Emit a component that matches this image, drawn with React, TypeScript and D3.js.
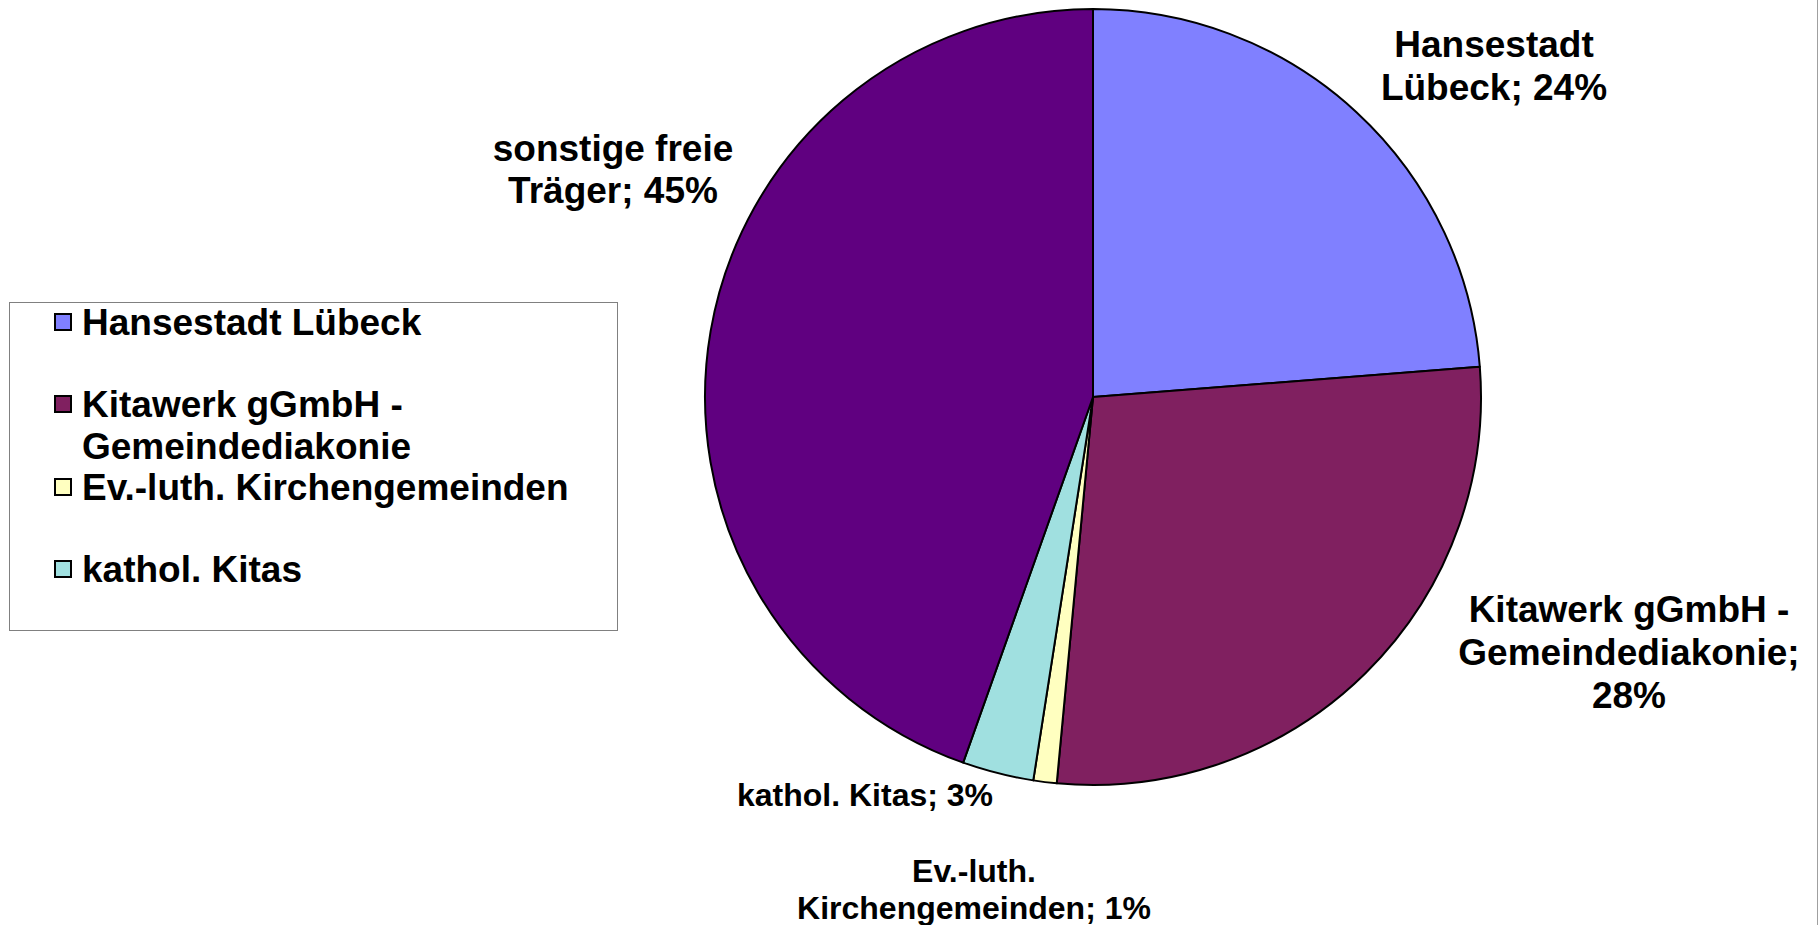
import React from "react";
import * as d3 from "d3";

const categories = [
  "Hansestadt Lübeck",
  "Kitawerk gGmbH - Gemeindediakonie",
  "Ev.-luth. Kirchengemeinden",
  "kathol. Kitas",
  "sonstige freie Träger",
];
const values = [23.76, 27.73, 0.97, 2.97, 44.57];
const colors = ["#8080FF", "#802060", "#FFFFC0", "#A0E0E0", "#600080"];

const sliceLabels: string[][] = [
  ["Hansestadt", "Lübeck; 24%"],
  ["Kitawerk gGmbH -", "Gemeindediakonie;", "28%"],
  ["Ev.-luth.", "Kirchengemeinden; 1%"],
  ["kathol. Kitas; 3%"],
  ["sonstige freie", "Träger; 45%"],
];
const legendItems: { lines: string[]; idx: number }[] = [
  { lines: ["Hansestadt Lübeck"], idx: 0 },
  { lines: ["Kitawerk gGmbH -", "Gemeindediakonie"], idx: 1 },
  { lines: ["Ev.-luth. Kirchengemeinden"], idx: 2 },
  { lines: ["kathol. Kitas"], idx: 3 },
];

const W = 1820;
const H = 925;
const cx = 1093;
const cy = 397;
const R = 388;

// label placement (center x, first baseline, line height, font size)
const labelPos = [
  { x: 1494, y: 57, lh: 43, fs: 37 },
  { x: 1629, y: 622, lh: 43, fs: 37 },
  { x: 974, y: 882, lh: 37, fs: 32 },
  { x: 865, y: 806, lh: 37, fs: 32 },
  { x: 613, y: 161, lh: 42, fs: 37 },
];

const legendY = [322, 404, 487, 569];

export default function App() {
  const pie = d3
    .pie<number>()
    .sort(null)
    .value((d) => d)
    .startAngle(0)
    .endAngle(2 * Math.PI);
  const arcs = pie(values);
  const arc = d3.arc<d3.PieArcDatum<number>>().innerRadius(0).outerRadius(R);
  const font = "'Liberation Sans', Arial, sans-serif";

  return (
    <svg
      width={W}
      height={H}
      style={{ position: "absolute", left: 0, top: 0, background: "#fff" }}
      fontFamily={font}
      fontWeight="bold"
    >
      <rect x={0} y={0} width={W} height={H} fill="#fff" />
      <line x1={1817.5} y1={0} x2={1817.5} y2={H} stroke="#a0a0a0" strokeWidth={1} />
      <g transform={`translate(${cx},${cy})`}>
        {arcs.map((a, i) => (
          <path
            key={i}
            d={arc(a) || ""}
            fill={colors[i]}
            stroke="#000"
            strokeWidth={2}
            strokeLinejoin="round"
          />
        ))}
      </g>
      {sliceLabels.map((lines, i) => (
        <text
          key={i}
          textAnchor="middle"
          fontSize={labelPos[i].fs}
          fill="#000"
        >
          {lines.map((l, j) => (
            <tspan key={j} x={labelPos[i].x} y={labelPos[i].y + j * labelPos[i].lh}>
              {l}
            </tspan>
          ))}
        </text>
      ))}
      <rect
        x={9.5}
        y={302.5}
        width={608}
        height={328}
        fill="#fff"
        stroke="#808080"
        strokeWidth={1}
      />
      {legendItems.map((it, k) => (
        <g key={k}>
          <rect
            x={55}
            y={legendY[k] - 8}
            width={16}
            height={16}
            fill={colors[it.idx]}
            stroke="#000"
            strokeWidth={2}
          />
          <text fontSize={37} fill="#000">
            {it.lines.map((l, j) => (
              <tspan key={j} x={82} y={legendY[k] + 13 + j * 42}>
                {l}
              </tspan>
            ))}
          </text>
        </g>
      ))}
      <title>{categories.join(", ")}</title>
    </svg>
  );
}
